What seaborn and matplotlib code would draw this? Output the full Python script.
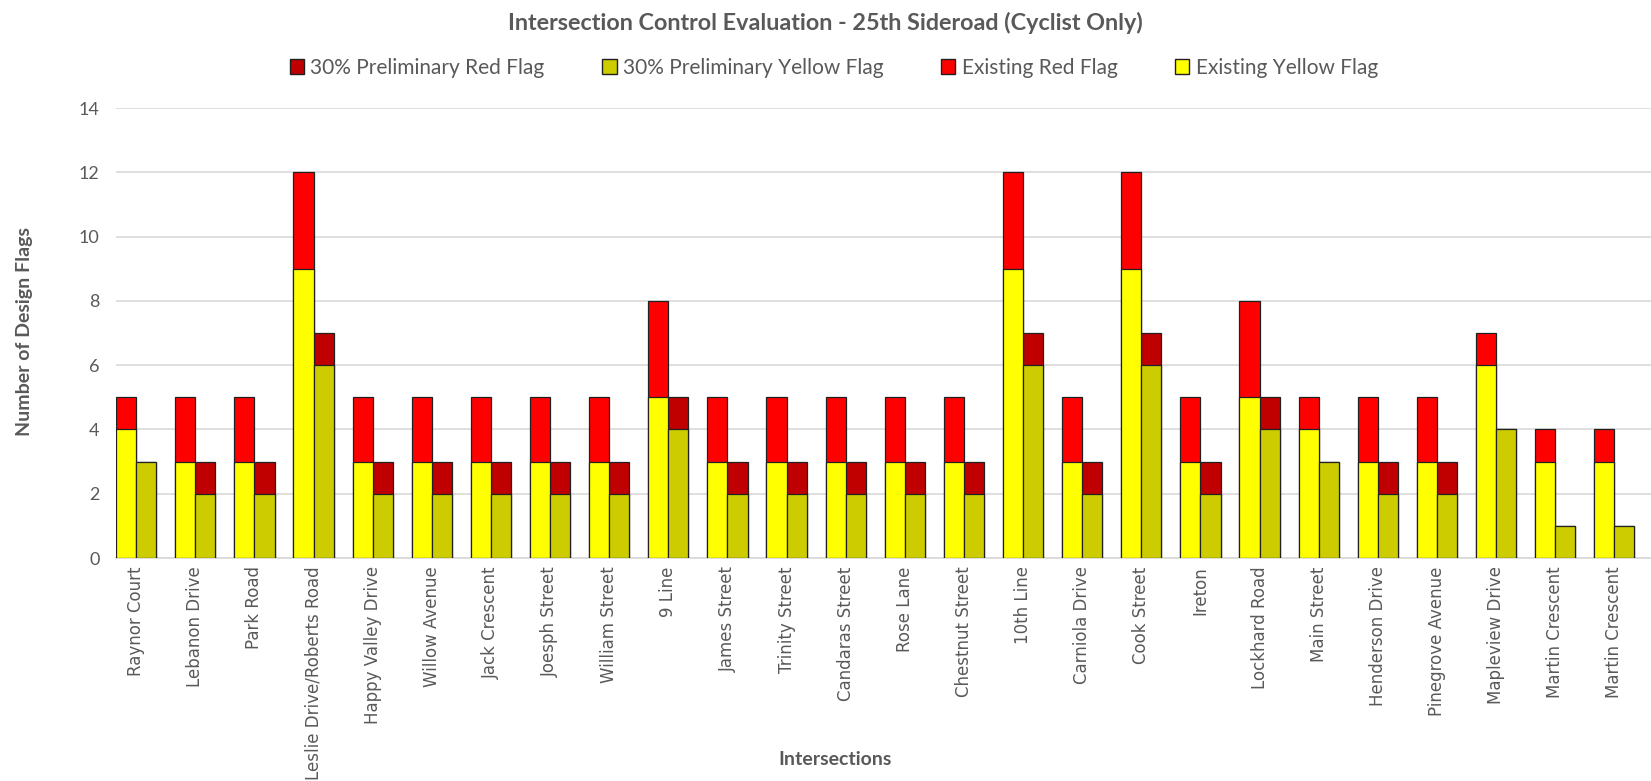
import matplotlib
matplotlib.use("Agg")
import matplotlib.pyplot as plt
import seaborn as sns
import pandas as pd
from matplotlib.patches import Patch

# intersections (Martin Crescent appears twice in the source)
intersections = ['Raynor Court', 'Lebanon Drive', 'Park Road', 'Leslie Drive/Roberts Road',
                 'Happy Valley Drive', 'Willow Avenue', 'Jack Crescent', 'Joesph Street',
                 'William Street', '9 Line', 'James Street', 'Trinity Street', 'Candaras Street',
                 'Rose Lane', 'Chestnut Street', '10th Line', 'Carniola Drive', 'Cook Street',
                 'Ireton', 'Lockhard Road', 'Main Street', 'Henderson Drive', 'Pinegrove Avenue',
                 'Mapleview Drive', 'Martin Crescent', 'Martin Crescent']

existing_yellow = [4, 3, 3, 9, 3, 3, 3, 3, 3, 5, 3, 3, 3, 3, 3, 9, 3, 9, 3, 5, 4, 3, 3, 6, 3, 3]
existing_red    = [1, 2, 2, 3, 2, 2, 2, 2, 2, 3, 2, 2, 2, 2, 2, 3, 2, 3, 2, 3, 1, 2, 2, 1, 1, 1]
prelim_yellow   = [3, 2, 2, 6, 2, 2, 2, 2, 2, 4, 2, 2, 2, 2, 2, 6, 2, 6, 2, 4, 3, 2, 2, 4, 1, 1]
prelim_red      = [0, 1, 1, 1, 1, 1, 1, 1, 1, 1, 1, 1, 1, 1, 1, 1, 1, 1, 1, 1, 0, 1, 1, 0, 0, 0]

c_ex_red, c_ex_yel = '#FF0000', '#FFFF00'
c_pr_red, c_pr_yel = '#C00000', '#CCCC00'

pos = list(range(len(intersections)))
df = pd.DataFrame({
    'pos': pos * 2,
    'scenario': ['Existing'] * len(pos) + ['Prelim'] * len(pos),
    'yellow': existing_yellow + prelim_yellow,
    'red': existing_red + prelim_red,
})
df['total'] = df['yellow'] + df['red']

sns.set_style('white')
plt.rcParams['font.family'] = ['DejaVu Sans']

fig = plt.figure(figsize=(16.51, 7.81), dpi=100)
ax = fig.add_axes([0.0703, 0.2855, 0.9297, 0.5762])

# stacked: draw totals (red) first, then yellow on top of them
sns.barplot(data=df, x='pos', y='total', hue='scenario', order=pos,
            hue_order=['Existing', 'Prelim'],
            palette={'Existing': c_ex_red, 'Prelim': c_pr_red},
            width=0.68, edgecolor='#202020', linewidth=0.9, saturation=1,
            legend=False, ax=ax, zorder=3)
sns.barplot(data=df, x='pos', y='yellow', hue='scenario', order=pos,
            hue_order=['Existing', 'Prelim'],
            palette={'Existing': c_ex_yel, 'Prelim': c_pr_yel},
            width=0.68, edgecolor='#202020', linewidth=0.9, saturation=1,
            legend=False, ax=ax, zorder=3)

ax.set_ylim(0, 14)
ax.set_yticks(range(0, 15, 2))
ax.set_xlim(-0.34, 25.62)
ax.yaxis.grid(True, color='#D9D9D9', linewidth=1.2, zorder=0)
ax.set_axisbelow(True)
for s in ['top', 'right', 'left']:
    ax.spines[s].set_visible(False)
ax.spines['bottom'].set_color('#D9D9D9')
ax.spines['bottom'].set_linewidth(1.2)

ax.set_xticks(pos)
ax.set_xticklabels(intersections, rotation=90, fontsize=12, color='#595959')
ax.tick_params(axis='y', labelsize=13, colors='#595959', length=0, pad=12)
ax.tick_params(axis='x', length=0, pad=6)
for lab in ax.get_yticklabels():
    lab.set_family('Lato')

ax.set_xlabel('')
fig.text(0.506, 0.028, 'Intersections', ha='center', va='center', fontsize=14,
         fontweight='bold', color='#595959', family='Lato')
ax.set_ylabel('')
fig.text(0.015, 0.575, 'Number of Design Flags', ha='center', va='center', rotation=90,
         fontsize=14, fontweight='bold', color='#595959', family='Lato')

fig.suptitle('Intersection Control Evaluation - 25th Sideroad (Cyclist Only)',
             x=0.5, y=0.985, fontsize=16.8, fontweight='bold', color='#595959', family='Lato')

handles = [Patch(facecolor=c_pr_red, edgecolor='#202020'),
           Patch(facecolor=c_pr_yel, edgecolor='#202020'),
           Patch(facecolor=c_ex_red, edgecolor='#202020'),
           Patch(facecolor=c_ex_yel, edgecolor='#202020')]
labels = ['30% Preliminary Red Flag', '30% Preliminary Yellow Flag',
          'Existing Red Flag', 'Existing Yellow Flag']
fig.legend(handles, labels, loc='center', bbox_to_anchor=(0.505, 0.913), ncol=4,
           frameon=False, handlelength=0.7, handleheight=0.7, handletextpad=0.3,
           columnspacing=2.75, prop={'family': 'Lato', 'size': 15}, labelcolor='#595959')

fig.savefig('out.png', dpi=100)
